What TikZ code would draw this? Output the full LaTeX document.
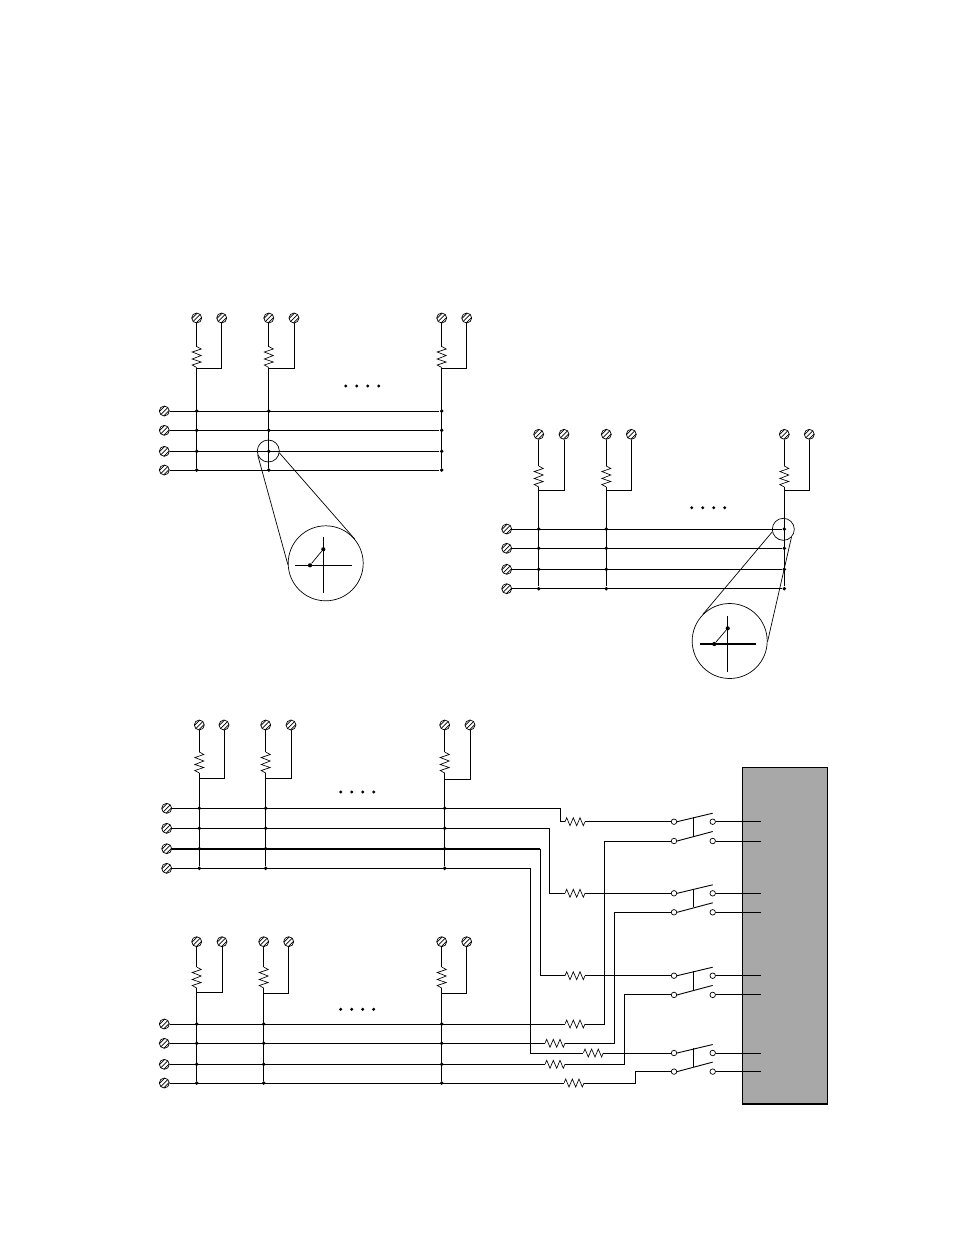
\documentclass[tikz,border=0pt]{standalone}
\usepackage{amsmath}
\usepackage{tikz}
\usetikzlibrary{calc}

\definecolor{panelgray}{RGB}{168,168,168}

\tikzset{
  screw/.style={circle,draw,fill=white,minimum size=10pt,inner sep=0pt,line width=.7pt,
    path picture={\foreach \s in {-2.2,0,2.2}
      \draw[line width=.7pt,shift={(path picture bounding box.center)}] (\s-5,\s+5) -- (\s+5,\s-5);}},
  pin/.style={circle,draw,fill=white,minimum size=5.5pt,inner sep=0pt,line width=.7pt},
  dot/.style={circle,fill=black,minimum size=3.9pt,inner sep=0pt},
  gapdot/.style={circle,fill=black,minimum size=3.3pt,inner sep=0pt},
  bigdot/.style={circle,fill=black,minimum size=4.2pt,inner sep=0pt},
  lens/.style={circle,draw,inner sep=0pt,line width=.7pt},
  vres/.style={minimum width=11pt,minimum height=21pt,inner sep=0pt,outer sep=0pt,
    path picture={\draw[line width=.65pt,shift={(path picture bounding box.center)}]
      (0,-10.5) -- (4.5,-8) -- (-4.5,-5) -- (4.5,-1.5) -- (-4.5,2) -- (4.5,5) -- (-4.5,8) -- (0,10.5);}},
  hres/.style={minimum width=20pt,minimum height=10pt,inner sep=0pt,outer sep=0pt,
    path picture={\draw[line width=.65pt,shift={(path picture bounding box.center)}]
      (-10,0) -- (-8.3,-4) -- (-5,4) -- (-1.7,-4) -- (1.7,4) -- (5,-4) -- (8.3,4) -- (10,0);}},
}

\newcommand{\railset}[6]{
  \node[screw] (#11) at (#2,#3) {};
  \node[screw] (#12) at (#2,#4) {};
  \node[screw] (#13) at (#2,#5) {};
  \node[screw] (#14) at (#2,#6) {};
}
\newcommand{\tapcol}[7]{
  \node[screw] (#1a) at (#2,#4) {};
  \node[screw] (#1b) at (#3,#4) {};
  \node[vres] (#1r) at (#2,#5) {};
  \coordinate (#1j) at (#2,#6);
  \coordinate (#1k) at (#3,#6);
  \foreach \i in {1,2,3,4}
    \node[dot] (#1d\i) at (#2,0 |- #7\i) {};
  \draw (#1a) -- (#1r.north);
  \draw (#1r.south) -- (#1d4);
  \draw (#1j) -- (#1k) -- (#1b);
}
\newcommand{\fourdots}[3]{
  \foreach \i/\dx in {1/0,2/11,3/22,4/33}
    \node[gapdot] (#1\i) at (#2+\dx,#3) {};
}
\newcommand{\dpswitch}[3]{
  \node[pin] (#1a) at (674,#2) {};
  \node[pin] (#1b) at (674,#3) {};
  \node[pin] (#1c) at (712.7,#2) {};
  \node[pin] (#1d) at (712.7,#3) {};
  \coordinate (#1e) at (712.7,#2-8.5);
  \coordinate (#1f) at (712.7,#3-9.5);
  \coordinate (#1g) at (693.7,#2-4.7);
  \coordinate (#1h) at (693.7,#3-5);
  \coordinate (#1i) at (761,#2);
  \coordinate (#1k) at (761,#3);
  \draw (#1a.east) -- (#1e);
  \draw (#1b.east) -- (#1f);
  \draw (#1g) -- (#1h);
  \draw (#1c) -- (#1i);
  \draw (#1d) -- (#1k);
}

\begin{document}
\begin{tikzpicture}[x=1pt,y=-1pt,line width=.9pt]
    \useasboundingbox (0,0) rectangle (954,1235);

    \railset{A}{164.3}{411}{430.3}{451.3}{470}
    \tapcol{Ap}{196.7}{221.7}{318}{357}{368}{A}
    \tapcol{Aq}{268.8}{294}{318}{357}{368}{A}
    \tapcol{As}{441.7}{466.7}{318}{357}{368}{A}
    \fourdots{Ae}{345.7}{386}
    \foreach \i in {1,2,3,4}
      \draw (A\i) -- (Asd\i);
    \node[lens,minimum size=22pt] (Alens) at (268.3,451) {};
    \node[lens,minimum size=75pt] (Abig) at (325.7,563.3) {};
    \draw[line width=.7pt] (Alens.200) -- (Abig.182);
    \draw[line width=.7pt] (Alens.350) -- (Abig.40);
    \node[bigdot] (Am1) at (310,565.3) {};
    \node[bigdot] (Am2) at (323.3,549.3) {};
    \coordinate (Am3) at (295,565.3);
    \coordinate (Am4) at (352,565.3);
    \coordinate (Am5) at (323.3,537.3);
    \coordinate (Am6) at (323.3,592.7);
    \draw (Am3) -- (Am4);
    \draw (Am5) -- (Am6);
    \draw[line width=.7pt] (Am1) -- (Am2);

    \railset{B}{506.7}{529}{548.3}{569.3}{588.7}
    \tapcol{Bp}{538.7}{564}{434.3}{476.5}{490.3}{B}
    \tapcol{Bq}{606.3}{631.3}{434.3}{476.5}{490.3}{B}
    \tapcol{Bs}{784.3}{809.3}{434.3}{476.5}{490.3}{B}
    \fourdots{Be}{691.7}{507.7}
    \foreach \i in {1,2,3,4}
      \draw (B\i) -- (Bsd\i);
    \node[lens,minimum size=22pt] (Blens) at (783.3,529.3) {};
    \node[lens,minimum size=75pt] (Bbig) at (729.7,641) {};
    \draw[line width=.7pt] (Blens.193) -- (Bbig.135);
    \draw[line width=.7pt] (Blens.316) -- (Bbig.359);
    \node[bigdot] (Bm1) at (714.3,644) {};
    \node[bigdot] (Bm2) at (727.7,628.3) {};
    \coordinate (Bm3) at (700,644);
    \coordinate (Bm4) at (755.7,644);
    \coordinate (Bm5) at (727.7,616);
    \coordinate (Bm6) at (727.7,671.7);
    \draw[line width=1.8pt] (Bm3) -- (Bm4);
    \draw (Bm5) -- (Bm6);
    \draw[line width=.7pt] (Bm1) -- (Bm2);

    \node[draw,fill=panelgray,minimum width=85pt,minimum height=336.4pt,inner sep=0pt] (panel) at (784.8,935.5) {};
    \draw[line width=1.8pt] (panel.south west) -- (panel.south east);

    \railset{C}{166.7}{808.3}{828.3}{848.7}{868.3}
    \tapcol{Cp}{199.3}{224}{725}{762.5}{778.3}{C}
    \tapcol{Cq}{265.7}{291}{725}{762.5}{778.3}{C}
    \tapcol{Cs}{444.7}{470}{725}{762.5}{779}{C}
    \fourdots{Ce}{340.7}{792}

    \railset{D}{164.3}{1024}{1043.3}{1064.3}{1083}
    \tapcol{Dp}{196.7}{222}{941.7}{977.5}{992.5}{D}
    \tapcol{Dq}{263.7}{288.7}{941.7}{977.5}{993.3}{D}
    \tapcol{Ds}{441.7}{466.7}{941.7}{977.5}{993.3}{D}
    \fourdots{De}{340.7}{1009.3}

    \dpswitch{Sa}{821.7}{841}
    \dpswitch{Sb}{893.3}{912.3}
    \dpswitch{Sc}{975.7}{994.9}
    \dpswitch{Sd}{1053}{1071.6}

    \node[hres] (Rc1) at (575,821.7) {};
    \node[hres] (Rc2) at (575,893.3) {};
    \node[hres] (Rc3) at (575,975.7) {};
    \node[hres] (Rc4) at (593.3,1053) {};
    \node[hres] (Rd1) at (575,1024) {};
    \node[hres] (Rd2) at (555,1043.3) {};
    \node[hres] (Rd3) at (555,1064.3) {};
    \node[hres] (Rd4) at (574,1083) {};

    \coordinate (Kc1) at (560.7,808.3);
    \coordinate (Kc2) at (549.3,828.3);
    \coordinate (Kc3) at (540.3,848.7);
    \coordinate (Kc4) at (530.7,868.3);
    \coordinate (Kd1) at (604.3,1024);
    \coordinate (Kd2) at (614.3,1043.3);
    \coordinate (Kd3) at (624.3,1064.3);
    \coordinate (Kd4) at (635,1083);

    \draw (C1) -- (Kc1) |- (Rc1.west);
    \draw (C2) -- (Kc2) |- (Rc2.west);
    \draw[line width=1.8pt] (C3) -- (Kc3);
    \draw (Kc3) |- (Rc3.west);
    \draw (C4) -- (Kc4) |- (Rc4.west);
    \draw (Rc1.east) -- (Saa);
    \draw (Rc2.east) -- (Sba);
    \draw (Rc3.east) -- (Sca);
    \draw (Rc4.east) -- (Sda);

    \draw (D1) -- (Rd1.west);
    \draw (D2) -- (Rd2.west);
    \draw (D3) -- (Rd3.west);
    \draw (D4) -- (Rd4.west);
    \draw (Rd1.east) -- (Kd1) |- (Sab);
    \draw (Rd2.east) -- (Kd2) |- (Sbb);
    \draw (Rd3.east) -- (Kd3) |- (Scb);
    \draw (Rd4.east) -- (Kd4) |- (Sdb);
  \end{tikzpicture}
\end{document}
